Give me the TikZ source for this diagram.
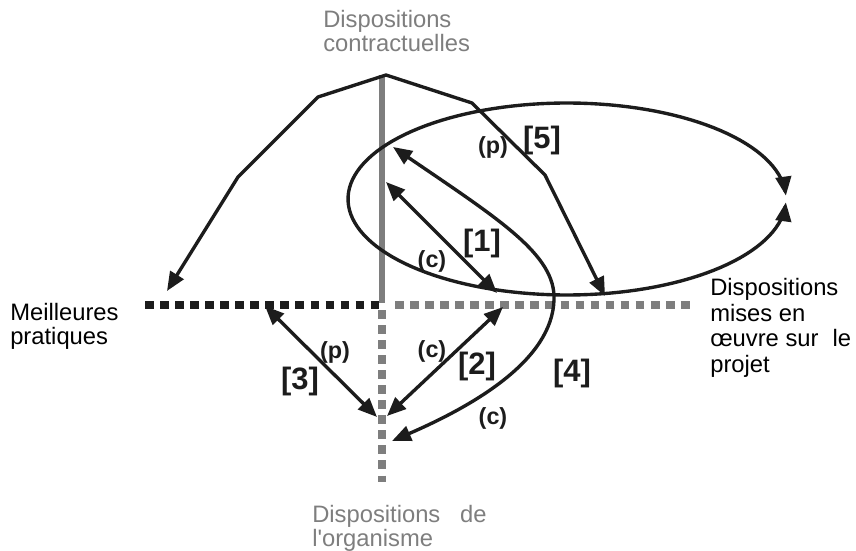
\documentclass[tikz,border=0pt]{standalone}
\usepackage{fontspec}
\setmainfont{Liberation Sans}
\usepackage{xcolor}
\usetikzlibrary{arrows.meta,positioning,calc}

\definecolor{axisgray}{RGB}{126,126,126}
\definecolor{inkblack}{RGB}{28,28,28}

\begin{document}
\begin{tikzpicture}[
  x=0.025cm, y=-0.025cm,
  every node/.style={inner sep=0pt, font=\fontsize{16.9}{17}\selectfont},
  axislabel/.style={align=left, anchor=north west},
  num/.style={font=\fontsize{22}{23}\selectfont\bfseries, inkblack},
  tag/.style={font=\fontsize{16.6}{17}\selectfont\bfseries, inkblack},
  link/.style={inkblack, line width=2.4pt, line join=round,
    {Triangle[length=13.5pt,width=11pt]}-{Triangle[length=13.5pt,width=11pt]}},
  dots/.style={line width=6pt, dash pattern=on 6.2pt off 4.5pt},
]

\useasboundingbox (0,0) rectangle (856,551);

%% ── Axes ───────────────────────────────────────────────────────────────────
\coordinate (o) at (382,305);
\draw[dots, inkblack] (145,305) -- (o);
\draw[dots, axisgray] ($(o)+(13,0)$) -- (695,305);
\draw[dots, axisgray] ($(o)+(0,5)$) -- (382,482);
\draw[axisgray, line width=3.8pt] (382,75) -- ($(o)+(0,-2)$);

%% ── Axis labels ────────────────────────────────────────────────────────────
\node[axislabel, axisgray] (contract) at (323,10) {Dispositions\\contractuelles};
\node[axislabel] (best) at (10,303) {Meilleures\\pratiques};
\node[axislabel, font=\fontsize{16.9}{18.3}\selectfont] (project) at (710,278)
  {Dispositions\\mises en\\œuvre sur\hspace{10pt}le\\projet};
\node[axislabel, axisgray] (organism) at (312,505)
  {Dispositions\hspace{14pt}de\\l\textquotesingle organisme};

%% ── Arrow end points ───────────────────────────────────────────────────────
\coordinate (a1) at (386,182);  \coordinate (b1) at (497,293);
\coordinate (a2) at (503,307);  \coordinate (b2) at (387,416);
\coordinate (a3) at (265,306);  \coordinate (b3) at (377,417);
\coordinate (a4) at (393,147);  \coordinate (b4) at (392,441);
\coordinate (a5) at (167,291);  \coordinate (b5) at (605,296);

%% [1] contract <-> project
\draw[link] (a1) -- (b1);
%% [2] project <-> organism
\draw[link] (a2) -- (b2);
%% [3] best practice <-> organism
\draw[link] (a3) -- (b3);
%% [4] contract <-> organism, round the back
\draw[link] (a4) .. controls (500,220) and (556,255) .. (554,300)
                 .. controls (552,360) and (475,405) .. (b4);
%% [5] best practice <-> project, over the top
\draw[link] (a5) -- (238,177) -- (318,97) -- (386,75) -- (472,103)
  -- (545,175) -- (b5);
%% loop on the project
\draw[link] plot[domain=2:358, samples=140]
  ({567+219*cos(\x)},{199-96*sin(\x)});

%% ── Arrow labels ───────────────────────────────────────────────────────────
\node[tag] (p5) at (493,147) {(p)};
\node[num] (n5) at (542,141) {[5]};
\node[tag] (c1) at (432,261) {(c)};
\node[num] (n1) at (482,244) {[1]};
\node[tag] (p3) at (335,352) {(p)};
\node[num] (n3) at (300,382) {[3]};
\node[tag] (c2) at (432,351) {(c)};
\node[num] (n2) at (477,367) {[2]};
\node[tag] (c4) at (493,418) {(c)};
\node[num] (n4) at (572,374) {[4]};

\end{tikzpicture}
\end{document}
